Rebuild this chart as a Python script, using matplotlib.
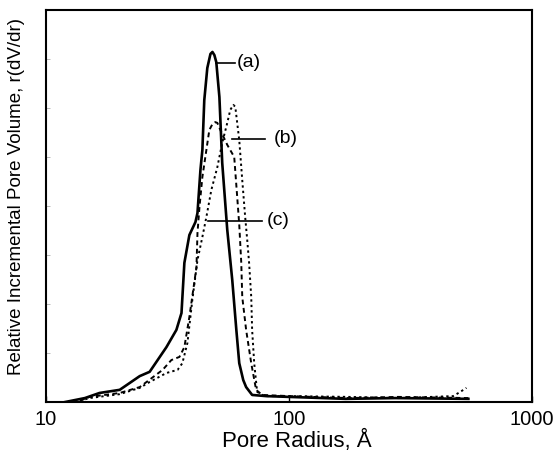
import numpy as np
import matplotlib
matplotlib.use("Agg")
import matplotlib.pyplot as plt
from matplotlib.ticker import NullLocator, FixedLocator

plt.rcParams['font.family'] = ['Liberation Sans', 'DejaVu Sans']

# curve (a) - solid
radius_a = [12.0, 14.45, 16.6, 20.1, 24.3, 26.7, 31.3, 34.4, 36.1, 37.1, 38.9, 41.2,
            42.0, 43.2, 44.0, 44.8, 46.1, 47.5, 48.4, 49.3, 50.2, 51.7, 53.1, 55.7,
            58.4, 60.7, 62.4, 64.8, 66.6, 70.5, 80.5, 100, 171, 274, 547]
vol_a = [0.000, 0.010, 0.023, 0.031, 0.066, 0.077, 0.140, 0.184, 0.227, 0.355, 0.426, 0.459,
         0.482, 0.592, 0.643, 0.770, 0.852, 0.888, 0.893, 0.885, 0.867, 0.778, 0.610, 0.439,
         0.311, 0.184, 0.099, 0.056, 0.038, 0.018, 0.015, 0.013, 0.008, 0.010, 0.008]

# curve (b) - later peak
radius_b = [13.8, 15.1, 20.1, 24.3, 26.7, 31.3, 34.8, 36.4, 38.2, 40.0, 42.0, 44.0, 45.7,
            47.9, 50.7, 53.1, 55.7, 57.3, 59.0, 60.1, 61.2, 62.4, 64.2, 66.0, 67.3, 68.5,
            69.9, 70.5, 71.9, 73.9, 79.0, 100, 176, 282, 474, 507, 537]
vol_b = [0.003, 0.010, 0.020, 0.036, 0.051, 0.074, 0.082, 0.099, 0.151, 0.260, 0.362, 0.421, 0.472,
         0.541, 0.599, 0.661, 0.712, 0.745, 0.758, 0.753, 0.712, 0.668, 0.566, 0.472, 0.413, 0.355,
         0.268, 0.184, 0.099, 0.026, 0.015, 0.015, 0.013, 0.010, 0.015, 0.026, 0.036]

# curve (c) - earlier, lower peak
radius_c = [13.8, 15.1, 20.1, 24.3, 30.2, 32.8, 35.4, 37.1, 38.9, 41.6, 42.0, 42.8, 44.0,
            45.7, 47.0, 48.4, 49.7, 50.7, 52.6, 55.7, 59.5, 61.2, 62.4, 63.6, 64.2, 66.6,
            69.9, 73.2, 77.5, 100, 176, 282, 547]
vol_c = [0.003, 0.013, 0.023, 0.038, 0.082, 0.107, 0.115, 0.140, 0.217, 0.344, 0.431, 0.497, 0.574,
         0.643, 0.694, 0.709, 0.714, 0.712, 0.689, 0.656, 0.625, 0.523, 0.452, 0.355, 0.268, 0.184,
         0.099, 0.031, 0.018, 0.015, 0.010, 0.013, 0.010]

fig = plt.figure(figsize=(5.57, 4.53), dpi=100)
ax = fig.add_axes([0.0826, 0.1126, 0.8726, 0.8653])

ax.plot(radius_a, vol_a, color='black', lw=1.9, ls='-')
ax.plot(radius_b, vol_b, color='black', lw=1.4, ls=(0, (1.2, 1.6)))
ax.plot(radius_c, vol_c, color='black', lw=1.4, ls=(0, (2.5, 1.8)))

ax.set_xscale('log')
ax.set_xlim(10, 1000)
ax.set_ylim(0, 1.0)

ax.xaxis.set_major_locator(FixedLocator([10, 100, 1000]))
ax.xaxis.set_minor_locator(NullLocator())
ax.set_xticklabels(['10', '100', '1000'])
ax.tick_params(axis='x', direction='in', length=4, width=1, labelsize=14.5, pad=6)
ax.yaxis.set_major_locator(FixedLocator(np.arange(0.125, 1.0, 0.125)))
ax.tick_params(axis='y', direction='in', length=3, width=0.6, colors='#b0b0b0', labelleft=False)

for s in ax.spines.values():
    s.set_linewidth(1.5)

ax.set_xlabel('Pore Radius, Å', fontsize=16)
ax.xaxis.set_label_coords(0.515, -0.072)
ax.set_ylabel('Relative Incremental Pore Volume, r(dV/dr)', fontsize=13.5)
ax.yaxis.set_label_coords(-0.043, 0.523)

# leader lines and labels
labels = [('(a)', 0.350, 0.389, 0.865, 0.393),
          ('(b)', 0.383, 0.451, 0.671, 0.469),
          ('(c)', 0.333, 0.444, 0.462, 0.455)]
for txt, x0, x1, y, xt in labels:
    ax.plot([x0, x1], [y, y], color='black', lw=1.2, transform=ax.transAxes)
    ax.text(xt, y, txt, transform=ax.transAxes, fontsize=14, va='center', ha='left')

fig.savefig('out.png', dpi=100)
